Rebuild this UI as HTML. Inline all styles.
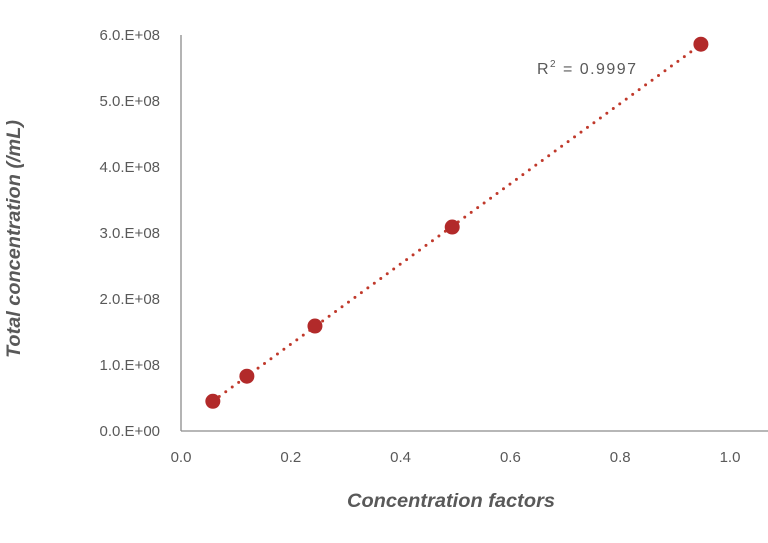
<!DOCTYPE html>
<html><head><meta charset="utf-8"><style>
body{margin:0;background:#fff;}
svg text{font-family:"Liberation Sans",sans-serif;fill:#595959;}
</style></head><body>
<svg id="chart" width="768" height="538">
<g id="axes"></g><g id="marks"></g>
<text x="537" y="74" font-size="16" textLength="99">R<tspan font-size="10" dy="-7">2</tspan><tspan dy="7"> = 0.9997</tspan></text>
<text x="347" y="507" font-size="19" font-style="italic" font-weight="bold" textLength="208" lengthAdjust="spacingAndGlyphs">Concentration factors</text>
<text transform="translate(20,358) rotate(-90)" font-size="19" font-style="italic" font-weight="bold" textLength="238" lengthAdjust="spacingAndGlyphs">Total concentration (/mL)</text>
</svg>
<script>
const xValues=[0.058,0.12,0.244,0.494,0.947];
const yValues=[0.45e8,0.83e8,1.59e8,3.09e8,5.86e8];
const xTicks=[0,0.2,0.4,0.6,0.8,1.0];
const xTickLabels=["0.0","0.2","0.4","0.6","0.8","1.0"];
const yTicks=[0,1e8,2e8,3e8,4e8,5e8,6e8];
const yTickLabels=["0.0.E+00","1.0.E+08","2.0.E+08","3.0.E+08","4.0.E+08","5.0.E+08","6.0.E+08"];
const NS="http://www.w3.org/2000/svg";
const sx=v=>181+v*549, sy=v=>431-v/1e8*66;
function mk(tag,attrs,parent){const e=document.createElementNS(NS,tag);for(const k in attrs)e.setAttribute(k,attrs[k]);parent.appendChild(e);return e;}
const axes=document.getElementById('axes'), marks=document.getElementById('marks');
let a=mk('line',{x1:181,y1:35,x2:181,y2:431,stroke:'#8c8c8c','stroke-width':1.3},axes);


a=mk('line',{x1:181,y1:431,x2:768,y2:431,stroke:'#8c8c8c','stroke-width':1.3},axes);


xTicks.forEach((t,i)=>{const e=mk('text',{x:sx(t),y:462,'font-size':15,'text-anchor':'middle'},axes);e.textContent=xTickLabels[i];

});
yTicks.forEach((t,i)=>{const e=mk('text',{x:160,y:sy(t)+5,'font-size':15,'text-anchor':'end'},axes);e.textContent=yTickLabels[i];

});
const n=xValues.length;let mx=0,my=0;xValues.forEach((x,i)=>{mx+=x;my+=yValues[i];});mx/=n;my/=n;
let sxy=0,sxx=0;xValues.forEach((x,i)=>{sxy+=(x-mx)*(yValues[i]-my);sxx+=(x-mx)*(x-mx);});
const slope=sxy/sxx,icpt=my-slope*mx;
const x0=Math.min(...xValues),x1=Math.max(...xValues);
const tl=mk('line',{x1:sx(x0),y1:sy(icpt+slope*x0),x2:sx(x1),y2:sy(icpt+slope*x1),stroke:'#c0392b','stroke-width':3,'stroke-dasharray':'0 8','stroke-linecap':'round'},marks);


xValues.forEach((x,i)=>{const c=mk('circle',{cx:sx(x),cy:sy(yValues[i]),r:7.5,fill:'#b22a2a'},marks);

});
</script>
</body></html>
